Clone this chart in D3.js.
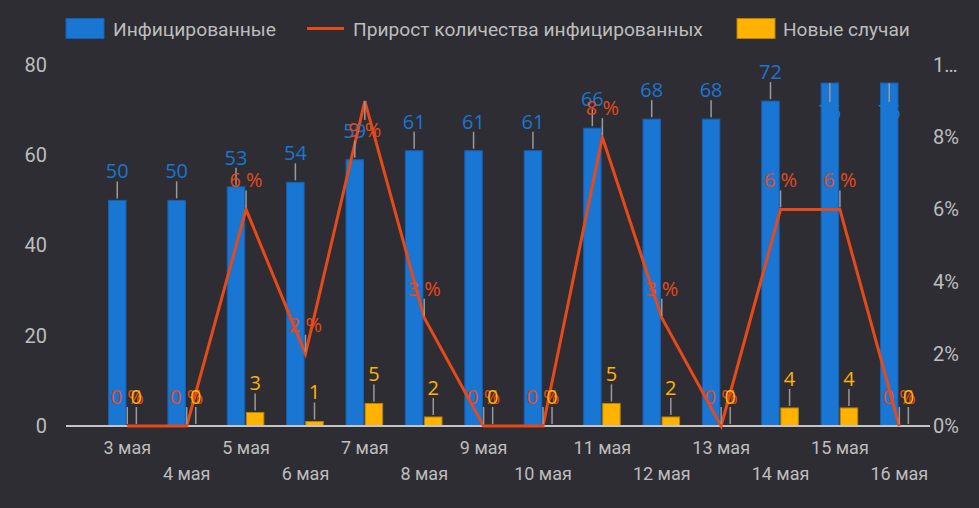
<!DOCTYPE html>
<html>
<head>
<meta charset="utf-8">
<script src="https://cdn.jsdelivr.net/npm/d3@7"></script>
<style>
  html, body { margin: 0; padding: 0; background: #2e2d34; }
  svg { display: block; }
</style>
</head>
<body>
<svg id="chart" width="979" height="508"></svg>
<script>
// chart data
const days = ["3 мая", "4 мая", "5 мая", "6 мая", "7 мая", "8 мая", "9 мая",
  "10 мая", "11 мая", "12 мая", "13 мая", "14 мая", "15 мая", "16 мая"];
const infected = [50, 50, 53, 54, 59, 61, 61, 61, 66, 68, 68, 72, 76, 76];
const newCases = [0, 0, 3, 1, 5, 2, 0, 0, 5, 2, 0, 4, 4, 0];
const growthPct = [0, 0, 6, 2, 9, 3, 0, 0, 8, 3, 0, 6, 6, 0];
const leftTicks = [0, 20, 40, 60, 80];
const rightTicks = [0, 2, 4, 6, 8, 10];
const rightTickLabels = ["0%", "2%", "4%", "6%", "8%", "1…"];
const legendItems = ["Инфицированные", "Прирост количества инфицированных", "Новые случаи"];

const BLUE = "#1976d2", BLUE_DARK = "#1560b8";
const AMBER = "#ffb300", AMBER_DARK = "#b88200";
const ORANGE = "#e64a19";
const AXIS_TXT = "#bdbdbd";
const LEADER = "#9a9a9a";

const svg = d3.select("#chart");

const x = d3.scaleBand().domain(days).range([97.6, 929]).padding(0);
const cx = (d) => x(d) + x.bandwidth() / 2;
const yL = d3.scaleLinear().domain([0, 80]).range([426, 65]);
const yR = d3.scaleLinear().domain([0, 10]).range([426, 65]);

const barW = 17.5;

// axes
const leftAxis = svg.append("g")
  .attr("transform", "translate(47,0)")
  .call(d3.axisLeft(yL).tickValues(leftTicks).tickSize(0).tickPadding(0));
leftAxis.select(".domain").remove();
leftAxis.selectAll("text")
  .attr("fill", AXIS_TXT)
  .attr("font-family", "Roboto")
  .attr("font-size", "20px");

const rightAxis = svg.append("g")
  .attr("transform", "translate(933,0)")
  .call(d3.axisRight(yR).tickValues(rightTicks).tickSize(0).tickPadding(0)
    .tickFormat((d, i) => rightTickLabels[i]));
rightAxis.select(".domain").remove();
rightAxis.selectAll("text")
  .attr("fill", AXIS_TXT)
  .attr("font-family", "Roboto")
  .attr("font-size", "20px");

const bottomAxis = svg.append("g")
  .attr("transform", "translate(0,426)")
  .call(d3.axisBottom(x).tickSize(0));
bottomAxis.select(".domain").remove();
bottomAxis.selectAll("text")
  .attr("fill", AXIS_TXT)
  .attr("font-family", "Roboto")
  .attr("font-size", "18px")
  .attr("dy", null)
  .attr("y", (d, i) => (i % 2 === 0 ? 28 : 54));

// bars
svg.append("g").selectAll("rect")
  .data(days)
  .enter()
  .append("rect")
  .attr("x", (d) => cx(d) - barW - 1.3)
  .attr("y", (d, i) => yL(infected[i]))
  .attr("width", barW)
  .attr("height", (d, i) => yL(0) - yL(infected[i]))
  .attr("fill", BLUE)
  .attr("stroke", BLUE_DARK)
  .attr("stroke-width", 1);

svg.append("g").selectAll("rect")
  .data(days)
  .enter()
  .append("rect")
  .attr("x", (d) => cx(d) + 0.3)
  .attr("y", (d, i) => yL(newCases[i]))
  .attr("width", barW)
  .attr("height", (d, i) => yL(0) - yL(newCases[i]))
  .attr("fill", AMBER)
  .attr("stroke", AMBER_DARK)
  .attr("stroke-width", (d, i) => (newCases[i] > 0 ? 1 : 0));

// baseline
svg.append("line")
  .attr("x1", 66).attr("x2", 930)
  .attr("y1", 426).attr("y2", 426)
  .attr("stroke", "#c4c4c4")
  .attr("stroke-width", 2);

// growth line
const line = d3.line()
  .x((d) => cx(d))
  .y((d, i) => yR(growthPct[i]));
svg.append("path")
  .datum(days)
  .attr("d", line)
  .attr("fill", "none")
  .attr("stroke", ORANGE)
  .attr("stroke-width", 3)
  .attr("stroke-linejoin", "miter");

// data labels with leader lines
function addLabels(g, items, color) {
  items.forEach((it) => {
    const flip = it.y < it.flipBelow;
    const y1 = flip ? it.y : it.y - 2;
    const y2 = flip ? it.y + 19 : it.y - 19;
    g.append("line")
      .attr("x1", it.x).attr("x2", it.x)
      .attr("y1", y1).attr("y2", y2)
      .attr("stroke", LEADER)
      .attr("stroke-width", 1.5);
    g.append("text")
      .attr("x", it.x)
      .attr("y", flip ? it.y + 36 : it.y - 22)
      .attr("text-anchor", "middle")
      .attr("fill", color)
      .attr("font-family", "Open Sans")
      .attr("font-size", "20px")
      .text(it.text);
  });
}

const blueLabels = svg.append("g");
addLabels(blueLabels, days.map((d, i) => ({
  x: cx(d) - barW / 2 - 1.3,
  y: yL(infected[i]),
  text: String(infected[i]),
  flipBelow: 90
})), BLUE);

const lineLabels = svg.append("g");
addLabels(lineLabels, days.map((d, i) => ({
  x: cx(d),
  y: yR(growthPct[i]),
  text: growthPct[i] + " %",
  flipBelow: 110
})), ORANGE);

const amberLabels = svg.append("g");
addLabels(amberLabels, days.map((d, i) => ({
  x: cx(d) + barW / 2 + 0.3,
  y: yL(newCases[i]),
  text: String(newCases[i]),
  flipBelow: 90
})), AMBER);

// legend
const legend = svg.append("g").attr("font-family", "Roboto").attr("font-size", "19px");
const legendX = [66, 307, 737];
const legendTextX = [113, 353, 783];
const legendTextW = [163, 350, 127];

legend.append("rect")
  .attr("x", legendX[0]).attr("y", 18.5).attr("width", 38).attr("height", 20)
  .attr("fill", BLUE).attr("stroke", BLUE_DARK).attr("stroke-width", 1);
legend.append("line")
  .attr("x1", legendX[1]).attr("x2", legendX[1] + 37)
  .attr("y1", 28.5).attr("y2", 28.5)
  .attr("stroke", ORANGE).attr("stroke-width", 3);
legend.append("rect")
  .attr("x", legendX[2]).attr("y", 18.5).attr("width", 38).attr("height", 20)
  .attr("fill", AMBER).attr("stroke", AMBER_DARK).attr("stroke-width", 1);

// fit each label to the width it takes in the reference
legend.selectAll("text")
  .data(legendItems)
  .enter()
  .append("text")
  .attr("x", 0)
  .attr("y", 0)
  .attr("fill", AXIS_TXT)
  .text((d) => d)
  .each(function (d, i) {
    const w = this.getComputedTextLength();
    const sx = legendTextW[i] / w;
    d3.select(this).attr("transform",
      "translate(" + legendTextX[i] + ",35.5) scale(" + sx + ",1)");
  });
</script>
</body>
</html>
